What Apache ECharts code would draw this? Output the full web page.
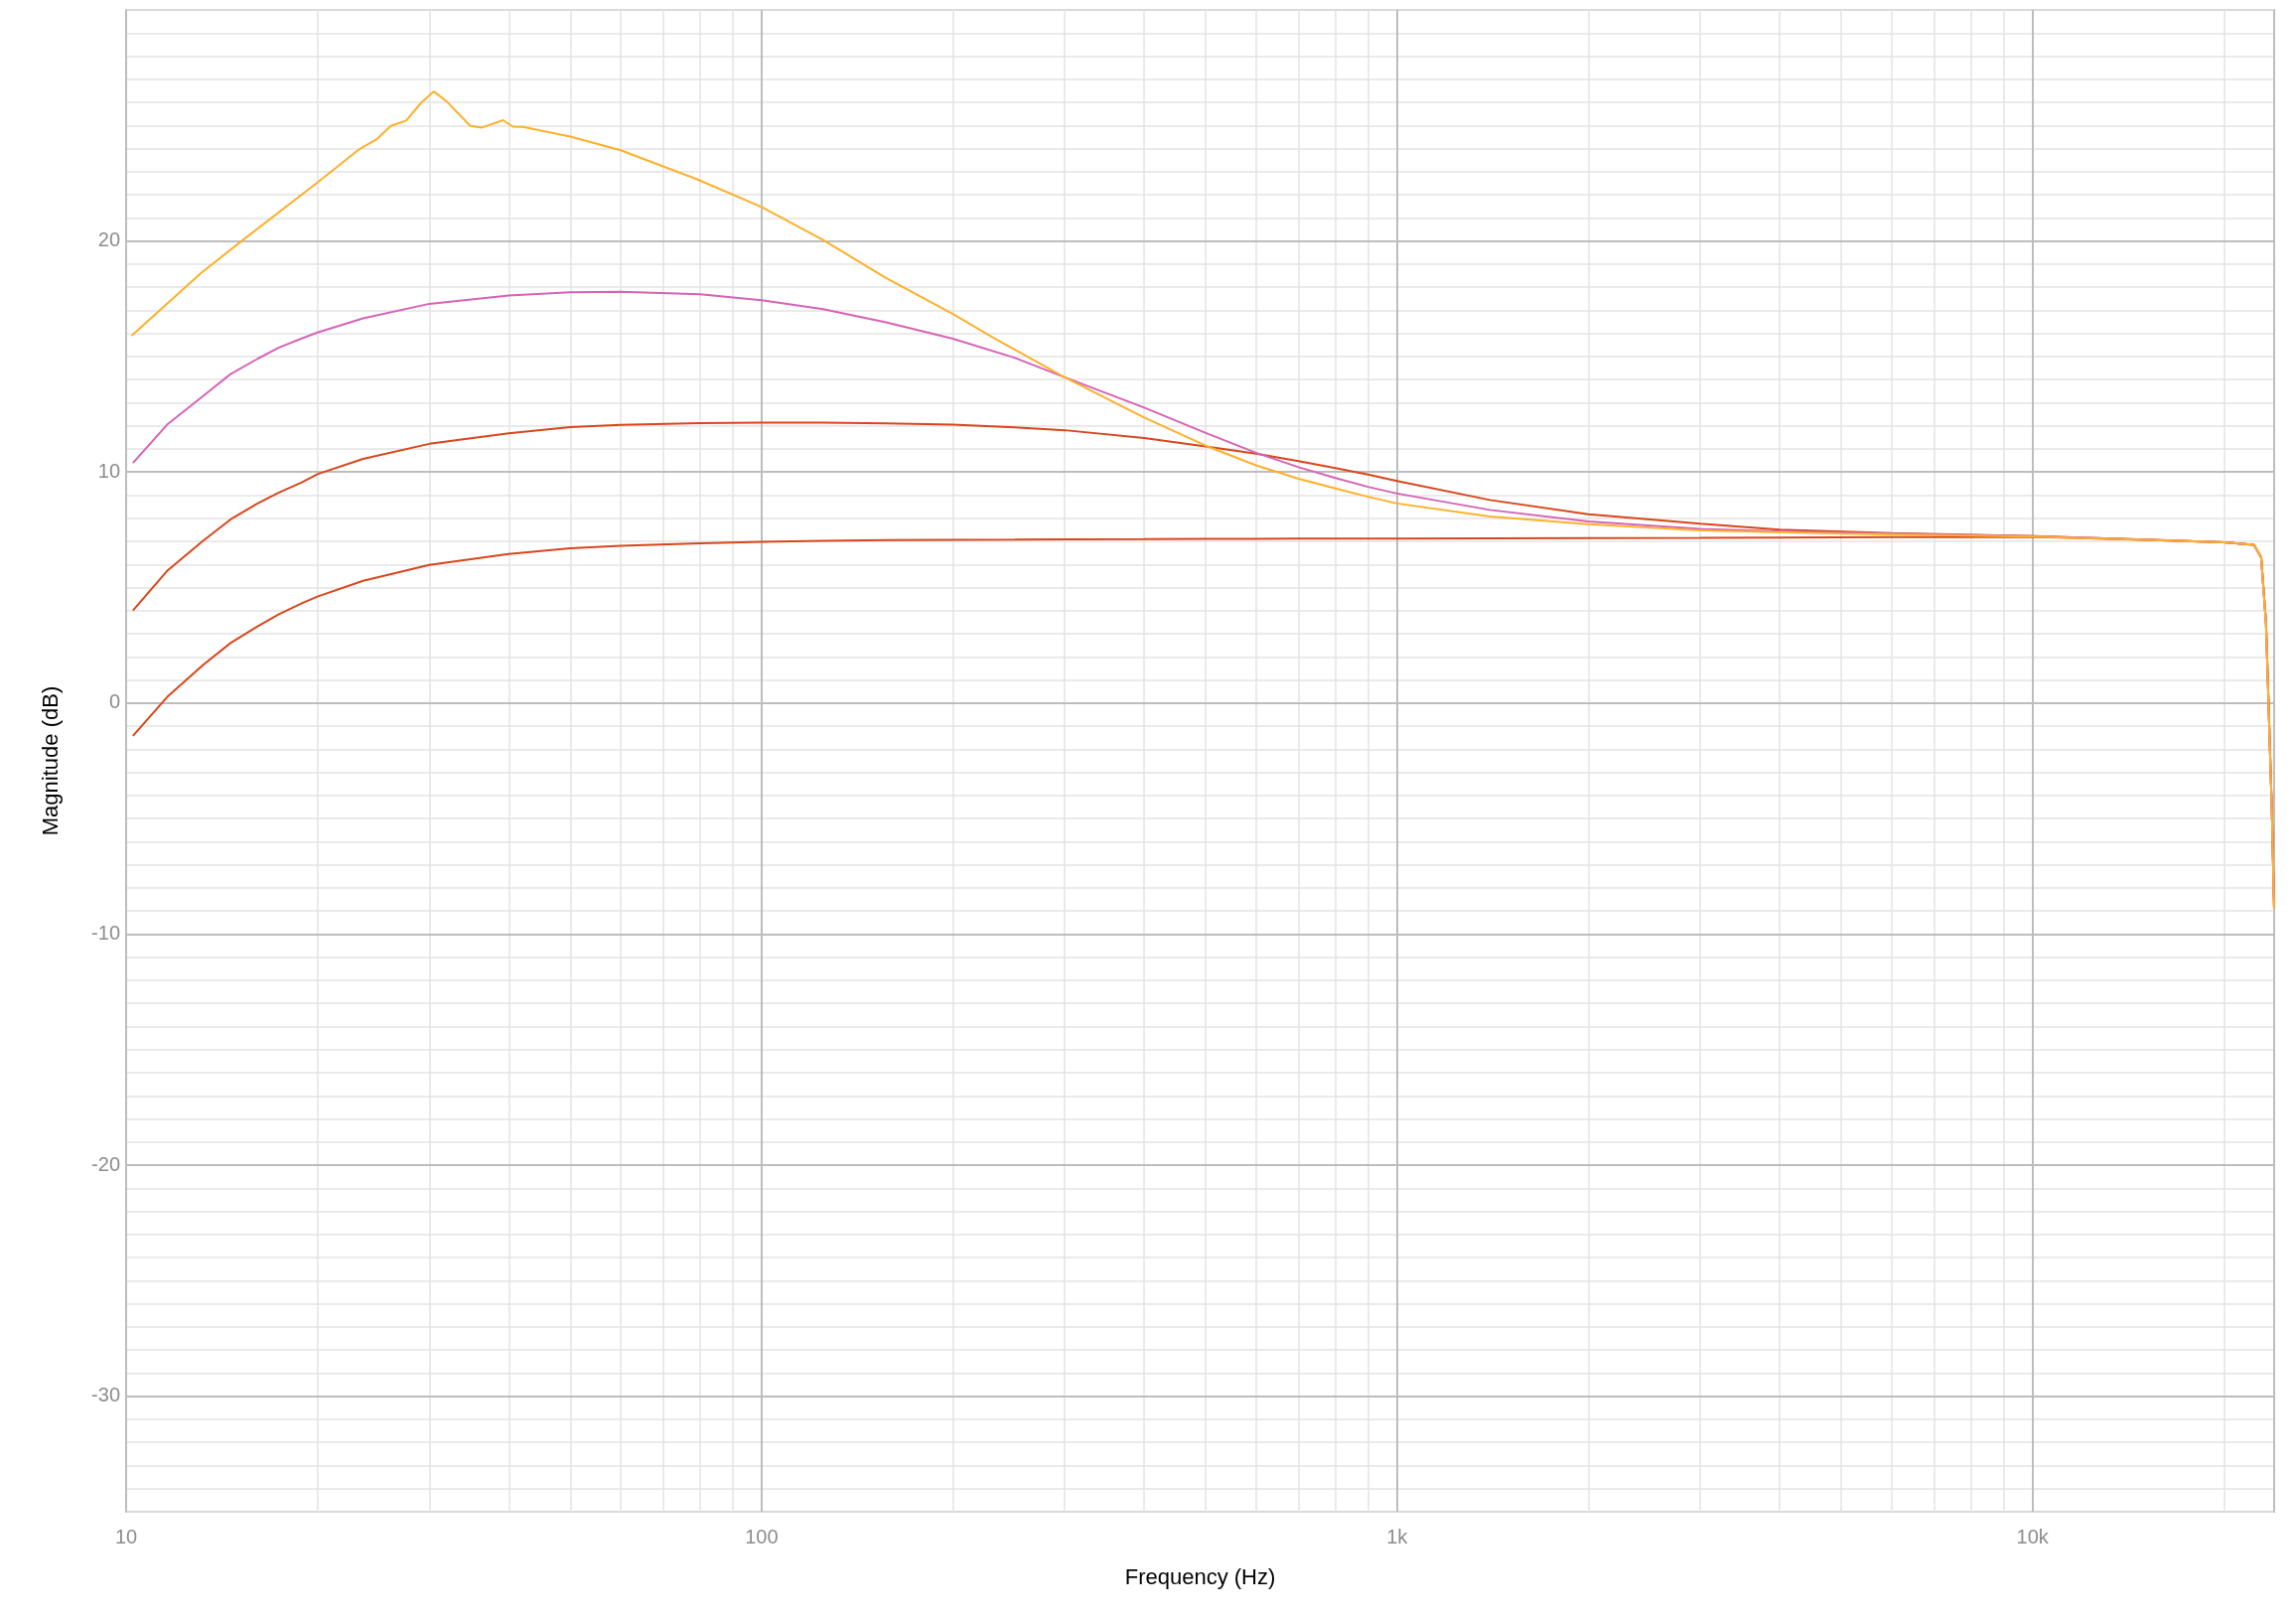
<!DOCTYPE html>
<html>
<head>
<meta charset="utf-8">
<script src="https://cdn.jsdelivr.net/npm/echarts@6/dist/echarts.min.js"></script>
<style>
html,body{margin:0;padding:0;background:#fff;}
#chart{width:2312px;height:1632px;}
</style>
</head>
<body>
<div id="chart"></div>
<script>
// Shared frequency grid (Hz) for the three smooth curves
const freqs = [10.25, 11.6, 13.2, 14.6, 16.1, 17.4, 18.9, 20, 23.6, 30, 40, 50, 60, 80, 100, 125, 157, 200, 250, 300, 400, 500, 600, 700, 800, 900, 1000, 1400, 2000, 3000, 4000, 6000, 10000, 15000, 20000, 22300, 22900, 23300, 23500, 23800, 24000];

// Lower red curve (dB)
const redLow = [-1.42, 0.26, 1.64, 2.60, 3.32, 3.85, 4.32, 4.61, 5.29, 5.98, 6.45, 6.70, 6.81, 6.92, 6.98, 7.02, 7.05, 7.07, 7.08, 7.09, 7.10, 7.11, 7.11, 7.12, 7.12, 7.12, 7.12, 7.13, 7.14, 7.15, 7.16, 7.18, 7.19, 7.07, 6.96, 6.85, 6.3, 3.5, 0.3, -4.6, -8.9];

// Upper red curve (dB)
const redHigh = [4.01, 5.72, 7.01, 7.95, 8.64, 9.11, 9.55, 9.91, 10.57, 11.22, 11.68, 11.94, 12.04, 12.12, 12.14, 12.14, 12.11, 12.05, 11.93, 11.81, 11.47, 11.11, 10.79, 10.47, 10.17, 9.89, 9.61, 8.79, 8.17, 7.76, 7.51, 7.36, 7.23, 7.08, 6.96, 6.85, 6.3, 3.5, 0.3, -4.6, -8.9];

// Pink curve (dB)
const pink = [10.39, 12.05, 13.28, 14.24, 14.9, 15.39, 15.78, 16.04, 16.65, 17.28, 17.64, 17.78, 17.80, 17.69, 17.44, 17.05, 16.48, 15.77, 14.95, 14.10, 12.79, 11.69, 10.83, 10.21, 9.74, 9.36, 9.07, 8.36, 7.86, 7.54, 7.43, 7.33, 7.23, 7.08, 6.96, 6.85, 6.3, 3.5, 0.3, -4.6, -8.9];

// Yellow curve: its own frequency grid (Hz) and values (dB)
const freqsYellow = [10.2, 13.1, 15.2, 20, 23.3, 24.8, 26.1, 27.6, 29.1, 30.5, 32.0, 34.8, 36.3, 39.2, 40.6, 42.1, 50, 60, 79, 100, 125, 157, 200, 231, 300, 400, 500, 600, 700, 800, 900, 1000, 1400, 2000, 3000, 5000, 10000, 15000, 20000, 22300, 22900, 23300, 23500, 23800, 24000];
const yellow = [15.9, 18.6, 20.0, 22.53, 23.98, 24.41, 24.98, 25.21, 25.97, 26.47, 26.02, 24.98, 24.91, 25.23, 24.95, 24.94, 24.52, 23.93, 22.68, 21.47, 20.04, 18.40, 16.84, 15.83, 14.10, 12.36, 11.14, 10.29, 9.71, 9.29, 8.93, 8.64, 8.08, 7.74, 7.47, 7.33, 7.20, 7.07, 6.96, 6.85, 6.3, 3.5, 0.3, -4.6, -8.9];

// Axis ticks
const xMajorTicks = [10, 100, 1000, 10000];
const xMajorLabels = ['10', '100', '1k', '10k'];
const xMinorTicks = [20, 30, 40, 50, 60, 70, 80, 90, 200, 300, 400, 500, 600, 700, 800, 900, 2000, 3000, 4000, 5000, 6000, 7000, 8000, 9000, 20000];
const yMajorTicks = [-30, -20, -10, 0, 10, 20];

const pair = (xs, ys) => xs.map((x, i) => [x, ys[i]]);

const minorColor = '#e3e3e3';
const majorColor = '#bdbdbd';
const FONT = 'Liberation Sans, Arial, sans-serif';

const chart = echarts.init(document.getElementById('chart'), null, {renderer: 'canvas'});
const lineSeries = (name, data, color) => ({
  name, type: 'line', data, showSymbol: false, symbol: 'none',
  smooth: false, z: 5,
  lineStyle: {color, width: 2}, itemStyle: {color}, silent: true
});

chart.setOption({
  animation: false,
  backgroundColor: '#ffffff',
  textStyle: {fontFamily: FONT},
  grid: {left: 127, right: 22, top: 10, bottom: 110, show: true, borderColor: majorColor, borderWidth: 2, containLabel: false},
  xAxis: {
    type: 'log', logBase: 10, min: 10, max: 24000,
    name: 'Frequency (Hz)', nameLocation: 'middle', nameGap: 56,
    nameTextStyle: {color: '#000', fontSize: 22, fontFamily: FONT},
    axisLine: {show: false}, axisTick: {show: false},
    axisLabel: {
      color: '#8c8c8c', fontSize: 20, margin: 16, showMaxLabel: false,
      formatter: v => { const r = Math.round(v); const i = xMajorTicks.indexOf(r); return i >= 0 ? xMajorLabels[i] : ''; }
    },
    splitLine: {show: true, lineStyle: {color: majorColor, width: 2}}
  },
  yAxis: {
    type: 'value', min: -35, max: 30, interval: 1,
    name: 'Magnitude (dB)', nameLocation: 'middle', nameGap: 64,
    nameTextStyle: {color: '#000', fontSize: 22, fontFamily: FONT},
    axisLine: {show: false}, axisTick: {show: false},
    axisLabel: {
      color: '#8c8c8c', fontSize: 20, margin: 6,
      formatter: v => (yMajorTicks.indexOf(Math.round(v)) >= 0 && Math.abs(v - Math.round(v)) < 1e-6) ? String(Math.round(v)) : ''
    },
    splitLine: {show: true, lineStyle: {color: minorColor, width: 1.5}}
  },
  series: [
    {
      name: 'grid', type: 'line', data: [[10, -40]], showSymbol: false, symbol: 'none', silent: true, z: 1,
      lineStyle: {opacity: 0},
      markLine: {
        silent: true, symbol: ['none', 'none'], animation: false, label: {show: false},
        emphasis: {disabled: true},
        data: [
          ...xMinorTicks.map(f => ({xAxis: f, lineStyle: {color: minorColor, width: 1.5, type: 'solid'}})),
          ...yMajorTicks.map(v => ({yAxis: v, lineStyle: {color: majorColor, width: 2, type: 'solid'}}))
        ]
      }
    },
    lineSeries('Lower', pair(freqs, redLow), '#d9461b'),
    lineSeries('Upper', pair(freqs, redHigh), '#d9461b'),
    lineSeries('Pink', pair(freqs, pink), '#d663b6'),
    lineSeries('Yellow', pair(freqsYellow, yellow), '#fdb02a')
  ]
});
</script>
</body>
</html>
